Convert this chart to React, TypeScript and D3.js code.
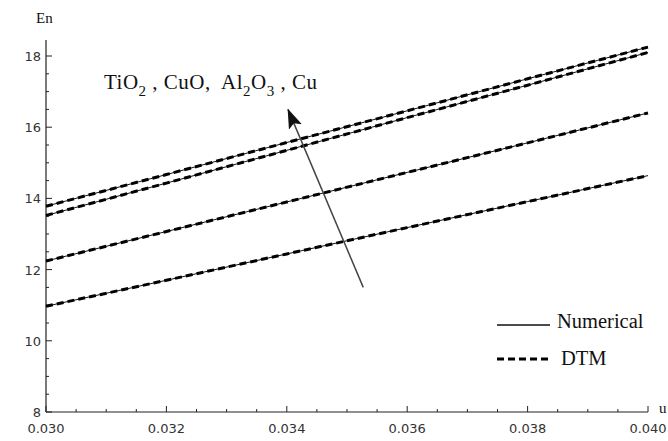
import React from "react";
import * as d3 from "d3";

// u values along the x axis
const uValues = [0.03, 0.032, 0.034, 0.036, 0.038, 0.04];

// En for each nanofluid
const cuSeries = [13.78, 14.67, 15.57, 16.46, 17.36, 18.25];
const al2o3Series = [13.52, 14.43, 15.35, 16.27, 17.18, 18.1];
const cuoSeries = [12.24, 13.07, 13.9, 14.73, 15.56, 16.4];
const tio2Series = [10.97, 11.7, 12.44, 13.18, 13.91, 14.64];

const seriesList = [cuSeries, al2o3Series, cuoSeries, tio2Series];

const xTickLabels = ["0.030", "0.032", "0.034", "0.036", "0.038", "0.040"];
const yTickValues = [8, 10, 12, 14, 16, 18];

// arrow showing the trend TiO2 -> Cu, in data units
const arrowFrom = { u: 0.03527, en: 11.5 };
const arrowTo = { u: 0.03402, en: 16.5 };

const App = () => {
  const width = 668;
  const height = 441;
  const x0 = 46;
  const x1 = 648;
  const yBottom = 412;
  const yTop = 40;

  const xScale = d3.scaleLinear().domain([0.03, 0.04]).range([x0, x1]);
  const yScale = d3.scaleLinear().domain([8, 18]).range([yBottom, 56]);

  const line = d3
    .line<number>()
    .x((_, i) => xScale(uValues[i]))
    .y((d) => yScale(d));

  const xMinor = d3.range(0, 21).map((i) => 0.03 + i * 0.0005);
  const yMinor = d3.range(0, 21).map((i) => 8 + i * 0.5);

  const tickFont = "'DejaVu Sans', sans-serif";
  const serif = "'Liberation Serif', 'Times New Roman', serif";

  const ax1 = xScale(arrowFrom.u);
  const ay1 = yScale(arrowFrom.en);
  const ax2 = xScale(arrowTo.u);
  const ay2 = yScale(arrowTo.en);

  return (
    <svg
      width={width}
      height={height}
      style={{ position: "absolute", left: 0, top: 0, background: "#fff" }}
    >
      <defs>
        <marker
          id="head"
          viewBox="0 0 20 14"
          refX="19"
          refY="7"
          markerWidth="20"
          markerHeight="14"
          markerUnits="userSpaceOnUse"
          orient="auto"
        >
          <path d="M0,0 L20,7 L0,14 L4,7 z" fill="#111" />
        </marker>
      </defs>

      {/* axes */}
      <line x1={x0} x2={x0} y1={yTop} y2={yBottom} stroke="#222" strokeWidth={1.2} />
      <line x1={x0} x2={x1} y1={yBottom} y2={yBottom} stroke="#222" strokeWidth={1.2} />

      {xMinor.map((v, i) => (
        <line
          key={"xm" + i}
          x1={xScale(v)}
          x2={xScale(v)}
          y1={yBottom}
          y2={yBottom - (i % 4 === 0 ? 6 : 3)}
          stroke="#222"
        />
      ))}
      {yMinor.map((v, i) => (
        <line
          key={"ym" + i}
          x1={x0}
          x2={x0 + (i % 4 === 0 ? 6 : 3)}
          y1={yScale(v)}
          y2={yScale(v)}
          stroke="#222"
        />
      ))}

      {uValues.map((u, i) => (
        <text
          key={"xl" + i}
          x={xScale(u)}
          y={433}
          textAnchor="middle"
          fontFamily={tickFont}
          fontSize={13}
          fill="#333"
        >
          {xTickLabels[i]}
        </text>
      ))}
      {yTickValues.map((v) => (
        <text
          key={"yl" + v}
          x={41}
          y={yScale(v) + 5}
          textAnchor="end"
          fontFamily={tickFont}
          fontSize={13}
          fill="#333"
        >
          {v}
        </text>
      ))}

      <text x={36} y={23} fontFamily={serif} fontSize={15} fill="#111">
        En
      </text>
      <text x={659} y={413} fontFamily={serif} fontSize={15} fill="#111">
        u
      </text>

      {/* series: solid numerical line with DTM dashes over it */}
      {seriesList.map((s, i) => (
        <g key={"s" + i}>
          <path d={line(s) ?? ""} fill="none" stroke="#111" strokeWidth={1} />
          <path
            d={line(s) ?? ""}
            fill="none"
            stroke="#000"
            strokeWidth={3}
            strokeDasharray="7,4"
          />
        </g>
      ))}

      {/* arrow */}
      <line
        x1={ax1}
        y1={ay1}
        x2={ax2}
        y2={ay2}
        stroke="#444"
        strokeWidth={1.5}
        markerEnd="url(#head)"
      />

      <text
        x={104}
        y={89}
        fontFamily={serif}
        fontSize={21}
        letterSpacing={0.5}
        fill="#111"
        xmlSpace="preserve"
      >
        TiO
        <tspan fontSize={15} dy={7}>2</tspan>
        <tspan dy={-7}>{" , CuO,  Al"}</tspan>
        <tspan fontSize={15} dy={7}>2</tspan>
        <tspan dy={-7}>O</tspan>
        <tspan fontSize={15} dy={7}>3</tspan>
        <tspan dy={-7}>{" , Cu"}</tspan>
      </text>

      {/* legend */}
      <line x1={497} x2={550} y1={325} y2={325} stroke="#111" strokeWidth={1.3} />
      <text x={557} y={328} fontFamily={serif} fontSize={20.5} fill="#111">
        Numerical
      </text>
      <line
        x1={497}
        x2={550}
        y1={359}
        y2={359}
        stroke="#000"
        strokeWidth={3}
        strokeDasharray="7,4"
      />
      <text x={561} y={365} fontFamily={serif} fontSize={20.5} fill="#111">
        DTM
      </text>
    </svg>
  );
};

export default App;
